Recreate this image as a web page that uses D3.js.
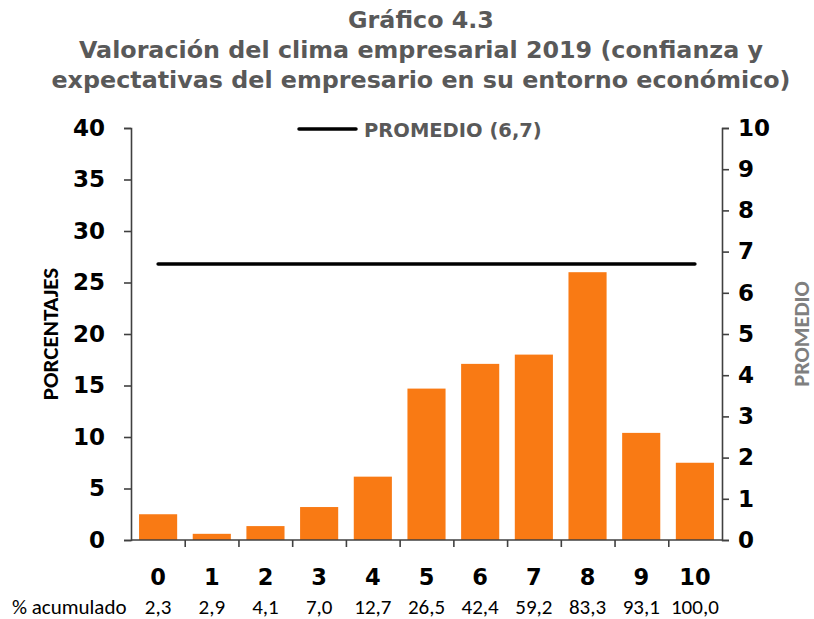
<!DOCTYPE html>
<html><head><meta charset="utf-8">
<script src="https://cdn.jsdelivr.net/npm/d3@7"></script>
<style>body{margin:0;background:#fff}</style>
</head><body>
<svg id="c" width="814" height="619"></svg>
<script>
const categories = ["0","1","2","3","4","5","6","7","8","9","10"];
const percentages = [2.5, 0.6, 1.35, 3.2, 6.15, 14.7, 17.1, 18.0, 26.0, 10.4, 7.5];
const cumulative = ["2,3","2,9","4,1","7,0","12,7","26,5","42,4","59,2","83,3","93,1","100,0"];
const promedio = 6.7;
const leftTicks = [0,5,10,15,20,25,30,35,40];
const rightTicks = [0,1,2,3,4,5,6,7,8,9,10];
const titleLines = ["Gráfico 4.3","Valoración del clima empresarial 2019 (confianza y","expectativas del empresario en su entorno económico)"];

const svg = d3.select("#c");
const L = 131, R = 722, T = 128, B = 540;
const x = d3.scaleBand().domain(categories).range([L, R]).paddingInner(0.29).paddingOuter(0.15);
const y = d3.scaleLinear().domain([0, 40]).range([B, T]);
const y2 = d3.scaleLinear().domain([0, 10]).range([B, T]);
const vFont = "Verdana, 'DejaVu Sans', sans-serif";
const cFont = "Calibri, Carlito, Lato, sans-serif";
const gray = "#595959";

// title
svg.append("g").selectAll("text").data(titleLines).join("text")
  .attr("x", 421).attr("y", (d,i) => 28 + i*30)
  .attr("text-anchor","middle").attr("font-family", vFont)
  .attr("font-weight","bold").attr("font-size", 23.8).attr("fill", gray).text(d => d);

// bars
svg.append("g").selectAll("rect").data(percentages).join("rect")
  .attr("x", (d,i) => x(categories[i])).attr("width", x.bandwidth())
  .attr("y", d => y(d)).attr("height", d => B - y(d)).attr("fill", "#F97A14");

// axes
const axisColor = "#404040";
const gl = svg.append("g").attr("transform", `translate(${L},0)`)
  .call(d3.axisLeft(y).tickValues(leftTicks).tickSize(7).tickPadding(19));
const gr = svg.append("g").attr("transform", `translate(${R},0)`)
  .call(d3.axisRight(y2).tickValues(rightTicks).tickSize(7).tickPadding(9));
const xb = d3.scaleLinear().domain([0, categories.length]).range([L, R]);
const gx = svg.append("g").attr("transform", `translate(0,${B})`)
  .call(d3.axisBottom(xb).tickValues(d3.range(1, categories.length)).tickSize(7).tickFormat(""));
[gl, gr, gx].forEach(g => {
  g.selectAll("path,line").attr("stroke", axisColor).attr("stroke-width", 1.6);
  g.selectAll("text").attr("font-family", vFont).attr("font-weight","bold")
    .attr("font-size", 23).attr("fill", "#000");
});
gx.select("path.domain").attr("d", `M${L},0H${R}`);

// category labels
svg.append("g").selectAll("text").data(categories).join("text")
  .attr("x", d => x(d) + x.bandwidth()/2).attr("y", 585)
  .attr("text-anchor","middle").attr("font-family", vFont).attr("font-weight","bold")
  .attr("font-size", 22.5).attr("fill","#000").text(d => d);
svg.append("g").selectAll("text").data(cumulative).join("text")
  .attr("x", (d,i) => x(categories[i]) + x.bandwidth()/2).attr("y", 614)
  .attr("text-anchor","middle").attr("font-family", cFont)
  .attr("font-size", 21).attr("fill","#000").text(d => d);
svg.append("text").attr("x", 12).attr("y", 614).attr("font-family", cFont)
  .attr("font-size", 21).attr("fill","#000").text("% acumulado");

// average line
svg.append("line")
  .attr("x1", x(categories[0]) + x.bandwidth()/2).attr("x2", x(categories[categories.length-1]) + x.bandwidth()/2)
  .attr("y1", y2(promedio)).attr("y2", y2(promedio))
  .attr("stroke","#000").attr("stroke-width", 3.5).attr("stroke-linecap","round");

// legend
svg.append("line").attr("x1", 299).attr("x2", 356).attr("y1", 129).attr("y2", 129)
  .attr("stroke","#000").attr("stroke-width", 3.5).attr("stroke-linecap","round");
svg.append("text").attr("x", 364).attr("y", 137).attr("font-family", vFont)
  .attr("font-weight","bold").attr("font-size", 19.5).attr("fill", gray).text("PROMEDIO (6,7)");

// axis titles
svg.append("text").attr("transform","translate(58,334) rotate(-90)")
  .attr("text-anchor","middle").attr("font-family", cFont).attr("font-weight","bold")
  .attr("font-size", 23).attr("fill","#000").text("PORCENTAJES");
svg.append("text").attr("transform","translate(809,334) rotate(-90)")
  .attr("text-anchor","middle").attr("font-family", cFont).attr("font-weight","bold")
  .attr("font-size", 22.5).attr("fill","#7f7f7f").text("PROMEDIO");
</script>
</body></html>
